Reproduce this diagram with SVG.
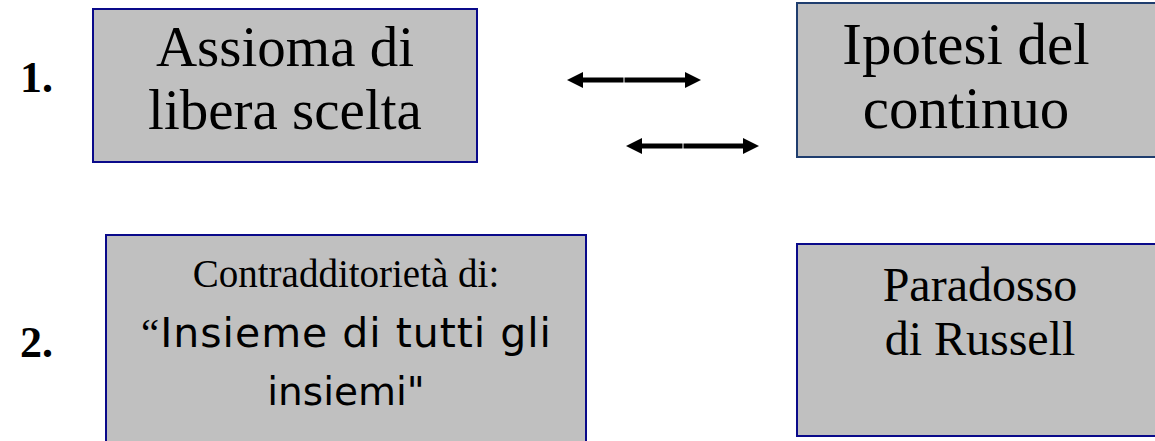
<svg xmlns="http://www.w3.org/2000/svg" width="1155" height="441" viewBox="0 0 1155 441">
<style>
.box{fill:#c0c0c0;stroke:#0a0a8a;stroke-width:2}
.box2{fill:#c0c0c0;stroke:#1f3d6e;stroke-width:2}
.t{font-family:"Liberation Serif","Times New Roman",serif;fill:#000;text-anchor:middle}
.c{font-family:"DejaVu Sans","Comic Sans MS",sans-serif;fill:#000;text-anchor:middle}
.num{font-family:"Liberation Serif","Times New Roman",serif;font-weight:bold;fill:#000;font-size:44px}
.arr{fill:#000}
</style>
<rect width="1155" height="441" fill="#fff"/>
<g id="label1"><text class="num" x="20" y="92">1.</text></g>
<g id="label2"><text class="num" x="20" y="357">2.</text></g>
<g id="node-assioma">
<rect class="box" x="93" y="9" width="384" height="153"/>
<text class="t" x="285" y="66" font-size="57">Assioma di</text>
<text class="t" x="285" y="129" font-size="57">libera scelta</text>
</g>
<g id="node-ipotesi">
<rect class="box2" x="797" y="3" width="370" height="154"/>
<text class="t" x="966" y="64" font-size="59">Ipotesi del</text>
<text class="t" x="966" y="128" font-size="59">continuo</text>
</g>
<g id="node-contraddittorieta">
<rect class="box" x="106" y="235" width="480" height="220"/>
<text class="t" x="346" y="287" font-size="39">Contradditorietà di:</text>
<text class="c" x="346" y="347" font-size="41" textLength="410" lengthAdjust="spacing"><tspan font-family="Liberation Serif, serif">“</tspan>Insieme di tutti gli</text>
<text class="c" x="346" y="405" font-size="39">insiemi"</text>
</g>
<g id="node-russell">
<rect class="box" x="797" y="244" width="370" height="192"/>
<text class="t" x="980" y="301" font-size="48">Paradosso</text>
<text class="t" x="980" y="355" font-size="48">di Russell</text>
</g>
<g id="connectors">
<rect class="arr" x="580" y="77.5" width="43.5" height="5"/>
<rect class="arr" x="624.5" y="77.5" width="63" height="5"/>
<polygon class="arr" points="567,80 583,72 583,88"/>
<polygon class="arr" points="701,80 685,72 685,88"/>
<rect class="arr" x="639" y="143.5" width="43.5" height="5"/>
<rect class="arr" x="683.5" y="143.5" width="62" height="5"/>
<polygon class="arr" points="626,146 642,138 642,154"/>
<polygon class="arr" points="759,146 743,138 743,154"/>
</g>
</svg>
